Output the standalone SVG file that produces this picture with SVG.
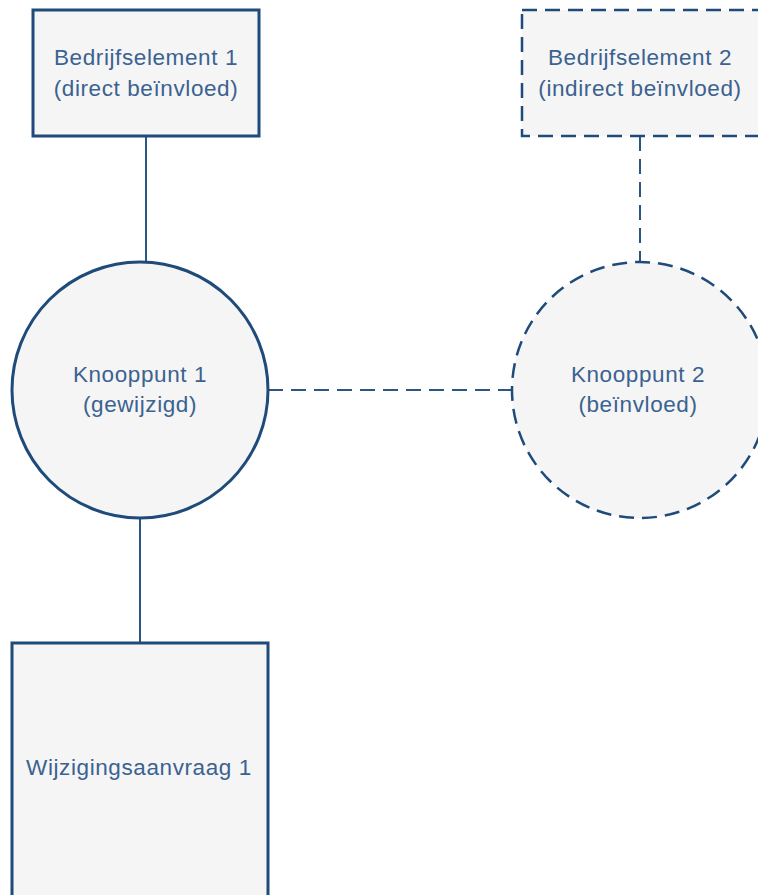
<svg xmlns="http://www.w3.org/2000/svg" width="758" height="895" viewBox="0 0 758 895">
<style>
.node{fill:#f5f5f5;stroke:#1f4b7b;stroke-width:3}
.dash{stroke-dasharray:15 8;stroke-width:2.5}
.conn{stroke:#2a5584;stroke-width:2;fill:none}
.lbl{font-family:"Liberation Sans",Arial,sans-serif;font-size:22.5px;fill:#3b6290;text-anchor:middle;letter-spacing:0.6px}
</style>
<rect width="758" height="895" fill="#ffffff"/>
<g id="connectors">
<line class="conn" x1="146" y1="136" x2="146" y2="262"/>
<line class="conn" x1="140" y1="518" x2="140" y2="643"/>
<line class="conn dash" x1="268" y1="390" x2="512" y2="390"/>
<line class="conn dash" x1="640" y1="136" x2="640" y2="263"/>
</g>
<g id="bedrijfselement1">
<rect class="node" x="33" y="10" width="226" height="126"/>
<text class="lbl" x="146" y="65">Bedrijfselement 1</text>
<text class="lbl" x="146" y="96">(direct beïnvloed)</text>
</g>
<g id="bedrijfselement2">
<rect class="node dash" x="522" y="10" width="240" height="126"/>
<text class="lbl" x="640" y="65">Bedrijfselement 2</text>
<text class="lbl" x="640" y="96">(indirect beïnvloed)</text>
</g>
<g id="knooppunt1">
<circle class="node" cx="140" cy="390" r="128"/>
<text class="lbl" x="140" y="382">Knooppunt 1</text>
<text class="lbl" x="140" y="412">(gewijzigd)</text>
</g>
<g id="knooppunt2">
<circle class="node dash" cx="640" cy="390" r="128"/>
<text class="lbl" x="638" y="382">Knooppunt 2</text>
<text class="lbl" x="638" y="412">(beïnvloed)</text>
</g>
<g id="wijzigingsaanvraag1">
<rect class="node" x="12" y="643" width="256" height="270"/>
<text class="lbl" x="139" y="775">Wijzigingsaanvraag 1</text>
</g>
</svg>
